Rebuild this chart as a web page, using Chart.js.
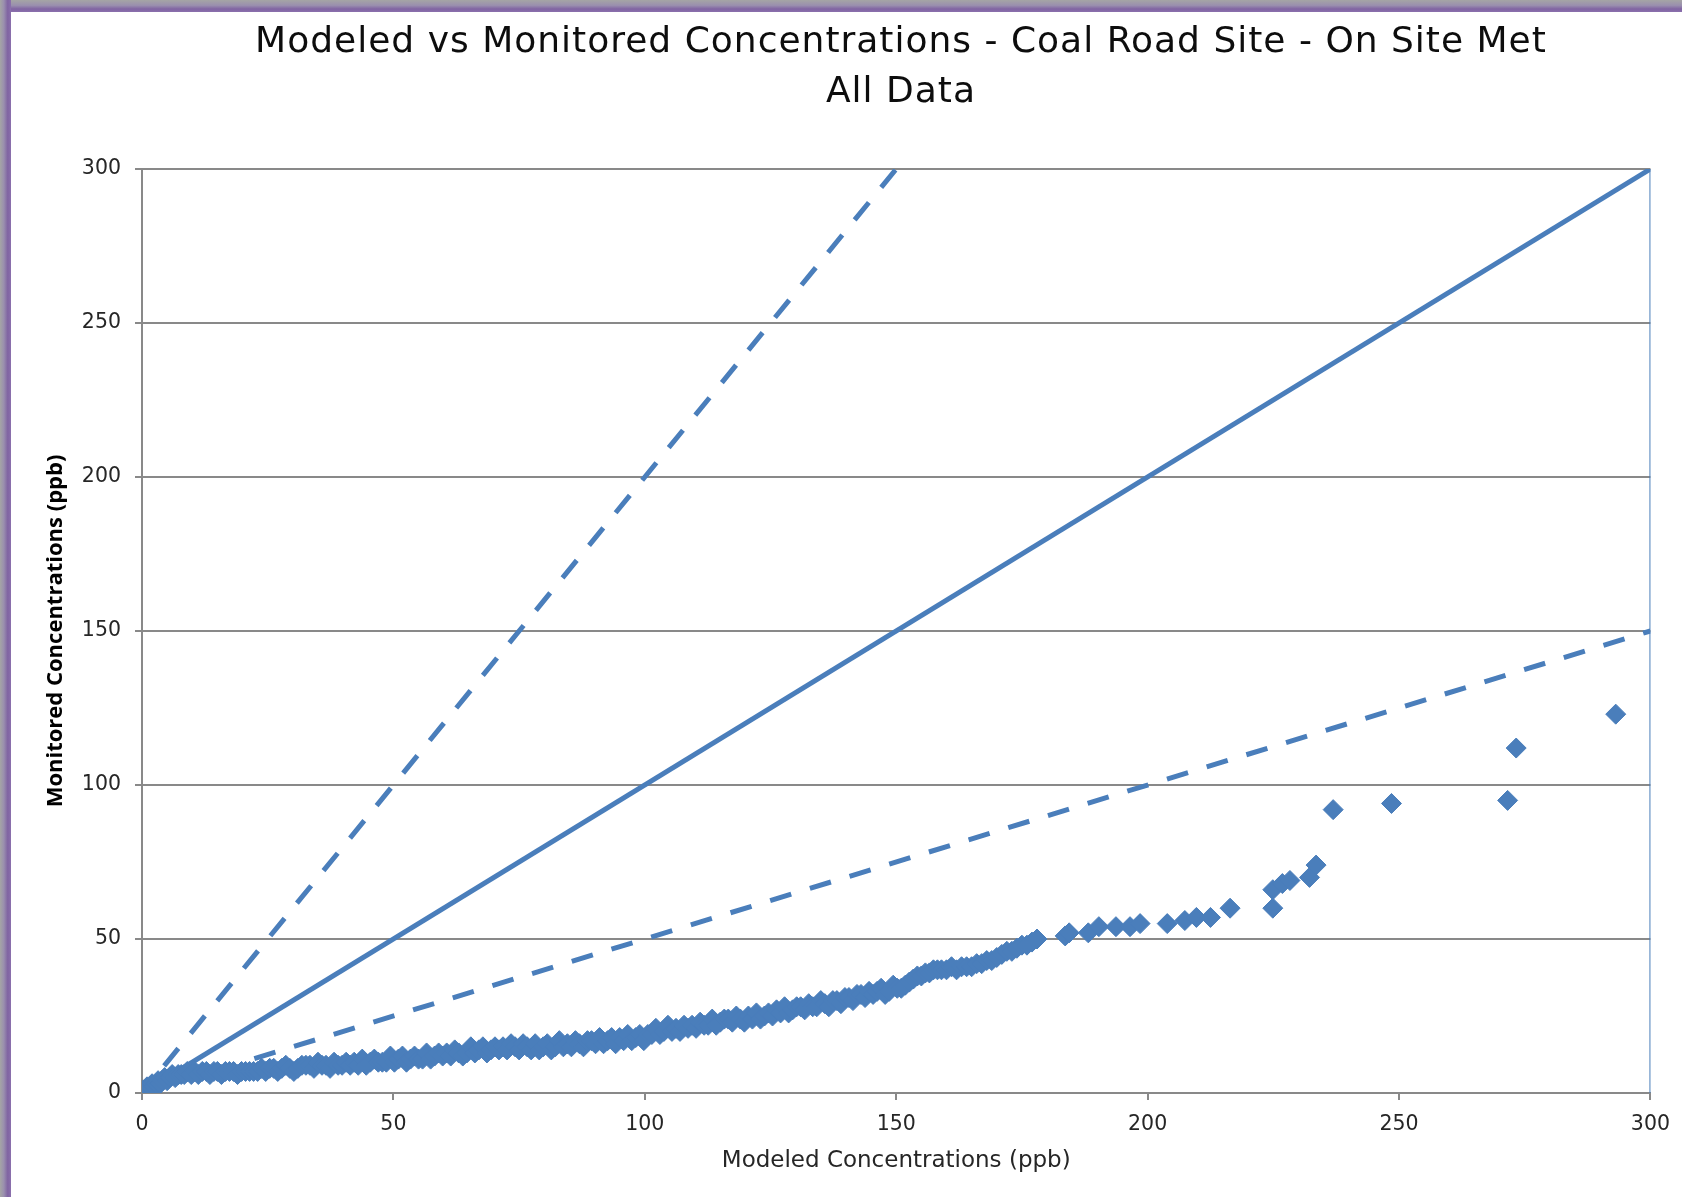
<!DOCTYPE html>
<html>
<head>
<meta charset="utf-8">
<title>Modeled vs Monitored Concentrations - Coal Road Site - On Site Met</title>
<script src="https://cdn.jsdelivr.net/npm/chart.js"></script>
<style>
  html, body { margin: 0; padding: 0; background: #fff; }
  canvas { display: block; }
</style>
</head>
<body>
<canvas id="qqChart" width="1682" height="1197"></canvas>
<script>
// sorted modeled vs monitored pairs (ppb)
const modeled = [
  0.1, 0.3, 0.5, 0.8, 1.0, 1.3, 1.6, 2.0, 2.4, 2.8, 3.2, 3.6, 4.0, 4.5, 5.0, 5.5, 6.0, 6.6, 7.2, 7.8,
  8.4, 9.0, 9.8, 10.5, 11.2, 12.0, 12.8, 13.5, 14.3, 15.0, 15.8, 16.6, 17.4, 18.2, 19.0, 19.8, 20.6, 21.4, 22.2, 23.0,
  23.8, 24.6, 25.4, 26.2, 27.0, 27.8, 28.6, 29.4, 30.2, 31.0, 31.8, 32.6,
  33.4, 34.2, 35.0, 35.8, 36.6, 37.4, 38.2, 39.0, 39.8, 40.6, 41.4, 42.2, 43.0, 43.8, 44.6, 45.4, 46.2, 47.0, 47.8,
  48.6, 49.4, 50.2, 51.0, 51.8, 52.6, 53.4, 54.2, 55.0, 55.8, 56.6, 57.4, 58.2, 59.0, 59.8, 60.6, 61.4, 62.2, 63.0, 63.8,
  64.6, 65.4, 66.2, 67.0, 67.8, 68.6, 69.4, 70.2, 71.0, 71.8, 72.6, 73.4, 74.2, 75.0, 75.8, 76.6,
  77.4, 78.2, 79.0, 79.8, 80.6, 81.4, 82.2, 83.0, 83.8, 84.6, 85.4, 86.2, 87.0, 87.8, 88.6, 89.4, 90.2, 91.0, 91.8, 92.6,
  93.4, 94.2, 95.0, 95.8, 96.6, 97.4, 98.2, 99.0, 99.8, 100.6,
  101.4, 102.2, 103.0, 103.8, 104.6, 105.4, 106.2, 107.0, 107.8, 108.6, 109.4, 110.2, 111.0, 111.8, 112.6,
  113.4, 114.2, 115.0, 115.8, 116.6, 117.4, 118.2, 119.0, 119.8, 120.6, 121.4, 122.2, 123.0, 123.8, 124.6,
  125.4, 126.2, 127.0, 127.8, 128.6, 129.4, 130.2, 131.0, 131.8, 132.6, 133.4, 134.2, 135.0, 135.8, 136.6, 137.4,
  138.2, 139.0, 139.8, 140.6, 141.4, 142.2, 143.0, 143.8, 144.6, 145.4, 146.2, 147.0, 147.8, 148.6, 149.4, 150.2, 151.0,
  151.8, 152.6, 153.4, 154.2, 155.0, 155.8, 156.6, 157.4, 158.2, 159.0, 160.0, 161.0, 162.0, 163.0, 164.0,
  165.0, 166.0, 167.0, 168.0, 169.0, 170.0, 171.0, 172.0, 173.0, 174.0, 175.0, 176.0, 177.0, 178.0,
  183.6, 184.4, 188.2, 190.3, 193.7, 196.5, 198.5, 203.9, 207.4, 209.7, 212.5, 216.4,
  224.9, 224.9, 226.8, 228.3, 232.2, 233.5, 236.9, 248.5, 271.6, 273.3, 293.1
];
const monitored = [
  0, 1, 0, 1, 2, 1, 2, 3, 2, 3, 4, 3, 4, 5, 4, 5, 6, 5, 6, 6,
  6, 7, 6, 7, 6, 7, 7, 6, 7, 7, 6, 7, 7, 7, 6, 7, 7, 7, 7, 7,
  8, 7, 8, 8, 7, 8, 9, 8, 7, 8, 9, 9,
  9, 8, 10, 9, 9, 8, 10, 9, 9, 10, 9, 10, 9, 11, 9, 10, 11, 10, 10,
  10, 12, 10, 11, 12, 10, 11, 12, 11, 11, 13, 11, 12, 13, 12, 13, 12, 14, 13, 12,
  13, 15, 13, 14, 15, 13, 14, 15, 14, 15, 14, 16, 15, 14, 16, 15,
  14, 16, 14, 15, 16, 14, 15, 17, 15, 16, 15, 17, 16, 15, 17, 17, 16, 18, 16, 17,
  18, 16, 18, 17, 19, 17, 18, 19, 17, 19,
  19, 21, 19, 20, 22, 20, 21, 20, 22, 21, 22, 21, 23, 22, 22,
  24, 22, 23, 24, 24, 23, 25, 24, 23, 25, 24, 26, 24, 25, 26,
  25, 27, 26, 28, 26, 27, 28, 28, 27, 29, 28, 28, 30, 29, 28, 30,
  30, 29, 31, 31, 30, 32, 32, 31, 33, 32, 33, 34, 32, 33, 35, 34, 34,
  35, 36, 37, 38, 38, 39, 39, 40, 40, 40, 40, 41, 40, 41, 41,
  41, 42, 42, 43, 43, 44, 45, 46, 46, 47, 48, 48, 49, 50,
  51, 52, 52, 54, 54, 54, 55, 55, 56, 57, 57, 60,
  60, 66, 68, 69, 70, 74, 92, 94, 95, 112, 123
];

// reference lines: 1:1, factor of two above and below, plus the closing edge at 300
const oneToOneX = [0, 300];
const oneToOneY = [0, 300];
const twiceX = [0, 150];
const twiceY = [0, 300];
const halfX = [0, 300];
const halfY = [0, 150];
const edgeX = [300, 300];
const edgeY = [0, 300];

const xTicks = [0, 50, 100, 150, 200, 250, 300];
const yTicks = [0, 50, 100, 150, 200, 250, 300];

const titleLines = ['Modeled vs Monitored Concentrations - Coal Road Site - On Site Met', 'All Data'];

const blue = '#4a7ebb';
const gridGray = '#898989';

function pairs(xs, ys) {
  return xs.map((x, i) => ({ x: x, y: ys[i] }));
}

function refLine(xs, ys, width, dash) {
  return {
    data: pairs(xs, ys),
    showLine: true,
    borderColor: blue,
    borderWidth: width,
    borderDash: dash,
    borderDashOffset: 7,
    borderCapStyle: 'butt',
    pointRadius: 0,
    order: 1
  };
}

// white page with the purple frame on the top and left edges
const framePlugin = {
  id: 'frame',
  beforeDraw(chart) {
    const ctx = chart.ctx;
    ctx.save();
    ctx.fillStyle = '#fff';
    ctx.fillRect(0, 0, chart.width, chart.height);
    let g = ctx.createLinearGradient(0, 0, 0, 12);
    g.addColorStop(0, '#a5a5a5');
    g.addColorStop(0.45, '#9a8fae');
    g.addColorStop(0.75, '#8064a2');
    g.addColorStop(1, '#8b70ad');
    ctx.fillStyle = g;
    ctx.fillRect(0, 0, chart.width, 12);
    g = ctx.createLinearGradient(0, 0, 11, 0);
    g.addColorStop(0, '#a5a5a5');
    g.addColorStop(0.35, '#9a8fae');
    g.addColorStop(0.7, '#8064a2');
    g.addColorStop(1, '#8b70ad');
    ctx.fillStyle = g;
    ctx.fillRect(0, 0, 11, chart.height);
    ctx.restore();
  }
};

// two-line title centred over the plot area
const titlePlugin = {
  id: 'twoLineTitle',
  afterDraw(chart) {
    const ctx = chart.ctx;
    ctx.save();
    ctx.fillStyle = '#0d0d0d';
    ctx.font = '36px "DejaVu Sans"';
    ctx.letterSpacing = '1px';
    ctx.textAlign = 'center';
    ctx.textBaseline = 'alphabetic';
    ctx.fillText(titleLines[0], 901, 52);
    ctx.fillText(titleLines[1], 901, 102);
    ctx.restore();
  }
};

new Chart(document.getElementById('qqChart'), {
  type: 'scatter',
  data: {
    datasets: [
      {
        data: pairs(modeled, monitored),
        backgroundColor: blue,
        borderColor: blue,
        borderWidth: 1,
        pointStyle: 'rectRot',
        pointRadius: 10,
        order: 0
      },
      refLine(oneToOneX, oneToOneY, 5, []),
      refLine(twiceX, twiceY, 5, [22.5, 19.5]),
      refLine(halfX, halfY, 5, [22, 19.5]),
      refLine(edgeX, edgeY, 2, [])
    ]
  },
  options: {
    responsive: false,
    animation: false,
    events: [],
    devicePixelRatio: 1,
    layout: { padding: { top: 169, right: 31, bottom: 0, left: 0 } },
    plugins: {
      legend: { display: false },
      tooltip: { enabled: false },
      title: { display: false }
    },
    scales: {
      x: {
        type: 'linear',
        min: 0,
        max: 300,
        afterBuildTicks: (s) => { s.ticks = xTicks.map(v => ({ value: v })); },
        afterFit: (s) => { s.height = 104; },
        grid: { drawOnChartArea: false, drawTicks: true, tickLength: 7, color: gridGray, lineWidth: 2 },
        border: { display: true, color: gridGray, width: 2 },
        ticks: { color: '#262626', padding: 12, font: { family: 'DejaVu Sans', size: 20.5 }, maxRotation: 0 },
        title: {
          display: true,
          text: 'Modeled Concentrations (ppb)',
          color: '#262626',
          font: { family: 'DejaVu Sans', size: 23 },
          padding: { top: 0, bottom: 22 }
        }
      },
      y: {
        type: 'linear',
        min: 0,
        max: 300,
        afterBuildTicks: (s) => { s.ticks = yTicks.map(v => ({ value: v })); },
        afterFit: (s) => { s.width = 142; },
        grid: { drawTicks: true, tickLength: 7, color: gridGray, lineWidth: 2 },
        border: { display: true, color: gridGray, width: 2 },
        ticks: { color: '#262626', padding: 14, font: { family: 'DejaVu Sans', size: 20.5 } },
        title: {
          display: true,
          text: 'Monitored Concentrations (ppb)',
          color: '#000',
          font: { family: 'Open Sans', size: 22, weight: 'bold' },
          padding: { top: 43, bottom: 0 }
        }
      }
    }
  },
  plugins: [framePlugin, titlePlugin]
});
</script>
</body>
</html>
